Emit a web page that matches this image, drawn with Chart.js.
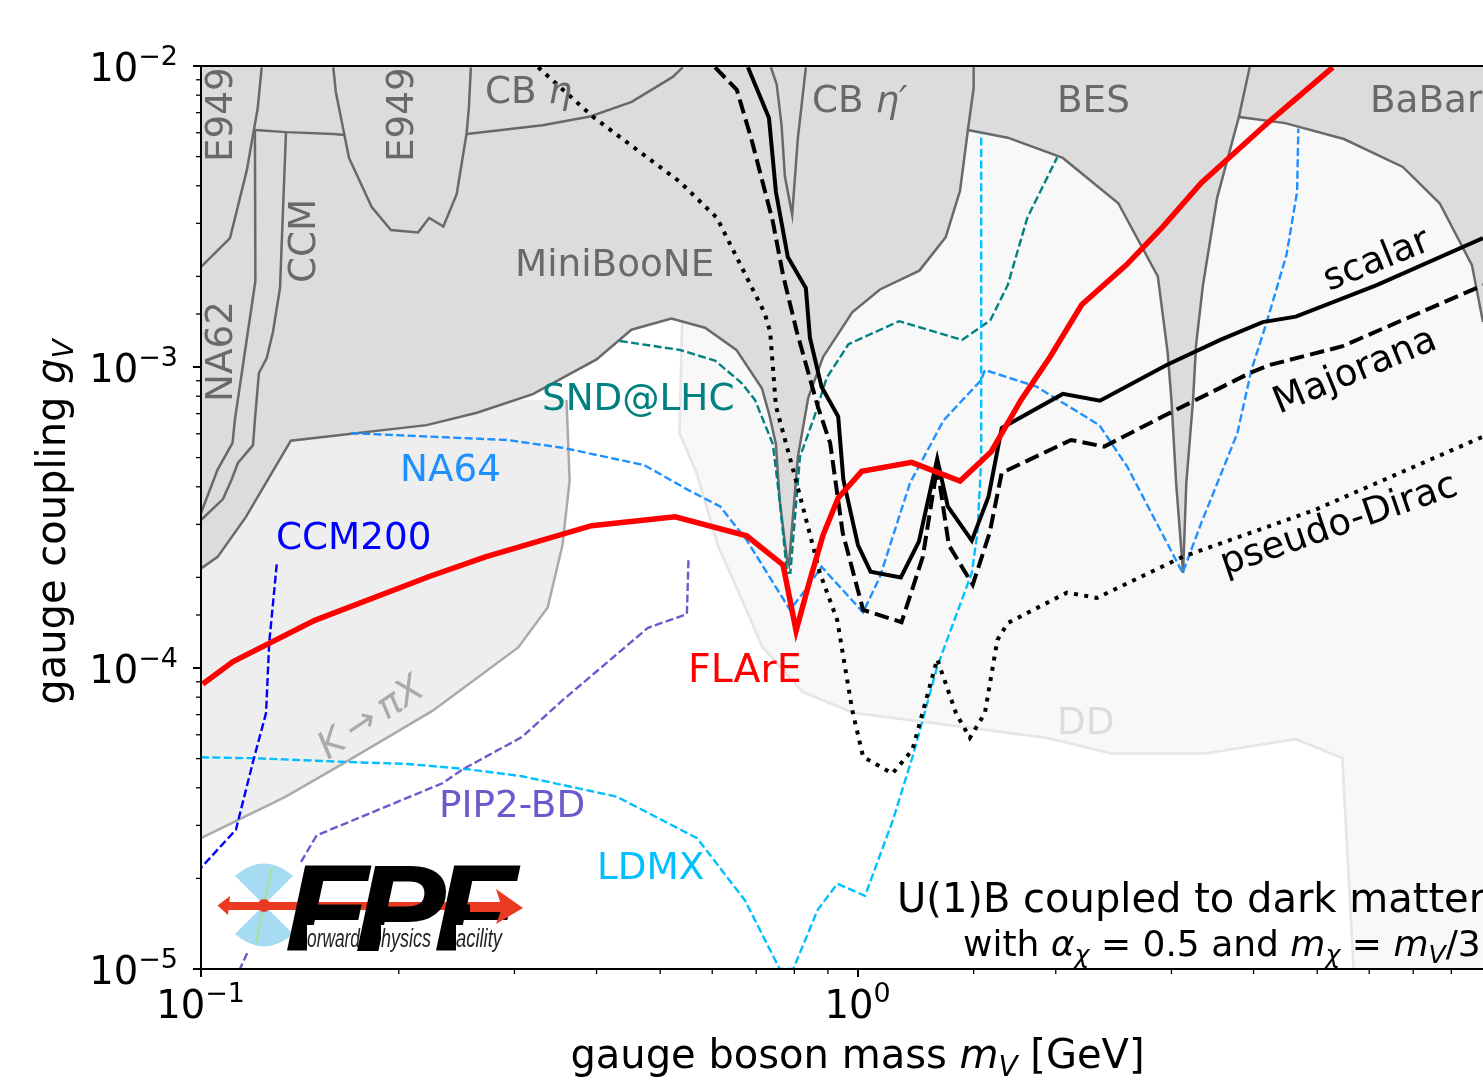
<!DOCTYPE html>
<html>
<head>
<meta charset="utf-8">
<title>FPF U(1)B dark matter reach</title>
<script src="https://cdn.jsdelivr.net/npm/chart.js@4/dist/chart.umd.min.js"></script>
<style>
  html, body { margin: 0; padding: 0; background: #fff; overflow: hidden; }
  canvas { display: block; }
</style>
</head>
<body>
<canvas id="reach" width="1483" height="1088"></canvas>
<script>
const X_MIN = 0.1, X_MAX = 8.94, Y_MIN = 1e-5, Y_MAX = 1e-2;

// sensitivity curves: mass in GeV, coupling g_V
const flareM = [0.1006, 0.1119, 0.149, 0.222, 0.271, 0.393, 0.527, 0.677, 0.769, 0.805, 0.845, 0.885, 0.933, 1.013, 1.207, 1.43, 1.595, 1.77, 1.96, 2.19, 2.56, 2.91, 3.33, 3.64, 4.23, 5.28];
const flareG = [8.85e-5, 1.05e-4, 1.44e-4, 2.01e-4, 2.34e-4, 2.97e-4, 3.18e-4, 2.75e-4, 2.2e-4, 1.33e-4, 1.96e-4, 2.77e-4, 3.67e-4, 4.5e-4, 4.82e-4, 4.18e-4, 5.23e-4, 7.76e-4, 1.08e-3, 1.61e-3, 2.18e-3, 2.92e-3, 4.09e-3, 4.87e-3, 6.55e-3, 9.9e-3];

const scalarM = [0.68, 0.732, 0.75, 0.782, 0.833, 0.845, 0.88, 0.933, 0.95, 1.0, 1.045, 1.162, 1.238, 1.32, 1.37, 1.49, 1.58, 1.655, 2.05, 2.335, 2.95, 3.56, 4.13, 4.64, 6.16, 8.94];
const scalarG = [9.9e-3, 6.72e-3, 3.82e-3, 2.32e-3, 1.83e-3, 1.25e-3, 8.6e-4, 6.84e-4, 4.22e-4, 2.56e-4, 2.09e-4, 2.0e-4, 2.63e-4, 4.95e-4, 3.44e-4, 2.65e-4, 3.71e-4, 6.27e-4, 8.14e-4, 7.73e-4, 1.015e-3, 1.23e-3, 1.41e-3, 1.47e-3, 1.87e-3, 2.68e-3];

const majoranaM = [0.606, 0.654, 0.689, 0.742, 0.769, 0.807, 0.869, 0.907, 0.948, 1.018, 1.165, 1.255, 1.32, 1.375, 1.495, 1.586, 1.655, 2.11, 2.37, 2.93, 3.95, 4.23, 5.45, 8.94];
const majoranaG = [9.9e-3, 8.33e-3, 5.67e-3, 3.04e-3, 2.02e-3, 1.31e-3, 7.37e-4, 5.59e-4, 2.81e-4, 1.56e-4, 1.42e-4, 2.34e-4, 4.66e-4, 2.56e-4, 1.89e-4, 2.81e-4, 4.45e-4, 5.72e-4, 5.44e-4, 6.9e-4, 9.55e-4, 1.015e-3, 1.17e-3, 1.87e-3];

const diracM = [0.326, 0.395, 0.535, 0.61, 0.721, 0.735, 0.75, 0.807, 0.875, 0.93, 0.98, 1.018, 1.128, 1.21, 1.32, 1.41, 1.48, 1.56, 1.63, 1.69, 2.08, 2.31, 3.12, 4.96, 8.94];
const diracG = [9.9e-3, 6.78e-3, 4.13e-3, 3.13e-3, 1.51e-3, 1.31e-3, 7.42e-4, 4.1e-4, 2.07e-4, 1.44e-4, 7.25e-5, 5.07e-5, 4.46e-5, 5.34e-5, 1.07e-4, 7.08e-5, 5.86e-5, 7.08e-5, 1.24e-4, 1.41e-4, 1.78e-4, 1.71e-4, 2.34e-4, 3.35e-4, 5.87e-4];

const sndM = [0.434, 0.535, 0.606, 0.665, 0.697, 0.742, 0.76, 0.78, 0.789, 0.816, 0.86, 0.896, 0.967, 1.155, 1.44, 1.59, 1.69, 1.81, 2.01];
const sndG = [1.22e-3, 1.14e-3, 1.05e-3, 8.85e-4, 7.77e-4, 5.55e-4, 3.6e-4, 2.07e-4, 2.07e-4, 5.03e-4, 6.93e-4, 9.2e-4, 1.19e-3, 1.42e-3, 1.23e-3, 1.43e-3, 1.87e-3, 3.13e-3, 4.97e-3];

const na64M = [0.169, 0.293, 0.357, 0.473, 0.552, 0.617, 0.677, 0.788, 0.84, 0.88, 1.018, 1.08, 1.2, 1.35, 1.54, 1.56, 1.87, 2.33, 2.57, 3.12, 3.33, 3.78, 3.97, 4.19, 4.49, 4.66, 4.68];
const na64G = [6.03e-4, 5.72e-4, 5.38e-4, 4.72e-4, 3.9e-4, 3.44e-4, 2.66e-4, 1.56e-4, 1.87e-4, 2.17e-4, 1.53e-4, 2.01e-4, 4.12e-4, 6.65e-4, 9.05e-4, 9.77e-4, 8.6e-4, 6.41e-4, 4.66e-4, 2.07e-4, 3.03e-4, 6.03e-4, 9.77e-4, 1.41e-3, 2.36e-3, 3.82e-3, 6.2e-3];

const ldmxM = [0.1, 0.1217, 0.168, 0.206, 0.2526, 0.308, 0.429, 0.569, 0.673, 0.76, 0.797, 0.868, 0.93, 1.025, 1.13, 1.215, 1.32, 1.49, 1.52, 1.54, 1.54];
const ldmxG = [5.05e-5, 5.01e-5, 4.87e-5, 4.8e-5, 4.62e-5, 4.37e-5, 3.74e-5, 2.72e-5, 1.69e-5, 1e-5, 1e-5, 1.57e-5, 1.92e-5, 1.75e-5, 3.12e-5, 5.2e-5, 1.01e-4, 2.07e-4, 2.82e-4, 4.9e-4, 5.98e-3];

const ccm200M = [0.1304, 0.127, 0.1256, 0.12, 0.113, 0.1];
const ccm200G = [2.21e-4, 1.21e-4, 7.08e-5, 4.88e-5, 2.9e-5, 2.17e-5];

const pip2M = [0.552, 0.549, 0.479, 0.3555, 0.308, 0.25, 0.233, 0.15, 0.142, 0.1176, 0.1146];
const pip2G = [2.28e-4, 1.51e-4, 1.36e-4, 7.83e-5, 5.9e-5, 4.6e-5, 4.14e-5, 2.78e-5, 2.27e-5, 1.13e-5, 1e-5];

// excluded regions: boundaries
const ddM = [0.54, 0.535, 0.567, 0.613, 0.655, 0.716, 0.825, 0.983, 1.94, 2.43, 3.37, 4.64, 5.46, 5.68];
const ddG = [1.41e-3, 6.03e-4, 4.5e-4, 2.53e-4, 1.83e-4, 1.17e-4, 8.32e-5, 7.1e-5, 5.86e-5, 5.2e-5, 5.2e-5, 5.8e-5, 5.02e-5, 1e-5];

const kaonM = [0.1, 0.1346, 0.168, 0.225, 0.304, 0.337, 0.355, 0.364, 0.36];
const kaonG = [2.72e-5, 3.74e-5, 4.94e-5, 7.2e-5, 1.17e-4, 1.59e-4, 2.56e-4, 4.2e-4, 7.77e-4];

const greyM = [0.1, 0.106, 0.117, 0.137, 0.2205, 0.263, 0.32, 0.4, 0.452, 0.52, 0.585, 0.653, 0.714, 0.733, 0.75, 0.76, 0.78, 0.785, 0.81, 0.84, 0.885, 0.98, 1.08, 1.24, 1.36, 1.43, 1.47, 1.69, 2.05, 2.49, 2.86, 2.96, 3.0, 3.05, 3.125, 3.16, 3.236, 3.27, 3.35, 3.52, 3.8, 4.47, 5.49, 6.75, 7.68, 8.6, 8.94];
const greyG = [2.14e-4, 2.34e-4, 3.17e-4, 5.69e-4, 6.41e-4, 7.05e-4, 8.13e-4, 1.06e-3, 1.33e-3, 1.45e-3, 1.35e-3, 1.14e-3, 8.5e-4, 6.93e-4, 5.55e-4, 3.6e-4, 2.28e-4, 2.2e-4, 5.03e-4, 7.9e-4, 1.08e-3, 1.52e-3, 1.81e-3, 2.09e-3, 2.7e-3, 3.85e-3, 6.13e-3, 5.78e-3, 4.95e-3, 3.5e-3, 2e-3, 1.12e-3, 7.77e-4, 4.1e-4, 2.07e-4, 4.1e-4, 7.77e-4, 1.18e-3, 1.87e-3, 3.64e-3, 6.77e-3, 6.46e-3, 5.72e-3, 4.62e-3, 3.5e-3, 2.18e-3, 1.41e-3];

// inner edges of the grey regions
const e949LeftM = [0.1237, 0.122, 0.1174, 0.1107, 0.1];
const e949LeftG = [9.9e-3, 7.25e-3, 4.5e-3, 2.68e-3, 2.15e-3];
const na62M = [0.1208, 0.121, 0.1126, 0.1117, 0.106, 0.1];
const na62G = [6.13e-3, 1.93e-3, 6.67e-4, 5.6e-4, 4.56e-4, 3.27e-4];
const topBarM = [0.1208, 0.135, 0.159, 0.1656];
const topBarG = [6.13e-3, 6.03e-3, 5.94e-3, 5.9e-3];
const ccmM = [0.1347, 0.1319, 0.1287, 0.1259, 0.1225, 0.1208, 0.12, 0.1138, 0.1113, 0.108, 0.1];
const ccmG = [6.03e-3, 1.83e-3, 1.31e-3, 1.07e-3, 9.55e-4, 6.67e-4, 5.5e-4, 4.8e-4, 4.22e-4, 3.64e-4, 3.1e-4];
const e949M = [0.159, 0.1604, 0.168, 0.1819, 0.1946, 0.214, 0.2225, 0.2338, 0.245, 0.2537, 0.2557, 0.2575];
const e949G = [9.9e-3, 8.2e-3, 4.95e-3, 3.4e-3, 2.85e-3, 2.8e-3, 3.13e-3, 2.93e-3, 3.75e-3, 5.98e-3, 7.25e-3, 9.9e-3];
const cbEtaM = [0.2539, 0.331, 0.391, 0.4525, 0.5225, 0.541];
const cbEtaG = [5.94e-3, 6.36e-3, 6.8e-3, 7.6e-3, 9.2e-3, 9.9e-3];
const cbEtaPrimeM = [0.737, 0.752, 0.765, 0.774, 0.794, 0.81, 0.833];
const cbEtaPrimeG = [9.9e-3, 8.7e-3, 6.36e-3, 4.3e-3, 3.2e-3, 5.75e-3, 9.9e-3];
const besLeftM = [1.47, 1.5, 1.5];
const besLeftG = [6.13e-3, 8.45e-3, 1e-2];
const besRightM = [3.8, 3.95];
const besRightG = [6.77e-3, 1e-2];

const pts = (m, g) => m.map((v, i) => ({ x: v, y: g[i] }));

function curve(label, m, g, color, width, dash) {
  return { label, data: pts(m, g), borderColor: color, borderWidth: width, borderDash: dash || [],
    pointRadius: 0, tension: 0, fill: false, showLine: true, borderJoinStyle: 'miter' };
}
function region(label, m, g, fillColor, edge, width, closeWith) {
  const d = curve(label, m, g, edge, width);
  d.polygonColor = fillColor;
  d.closeWith = closeWith;
  return d;
}

const thin = [8, 3.4];
const thick = [14.5, 6.2];
const dots = [4, 6.4];
const EDGE = '#696969';
const EDGE_W = 2.5;
const THIN_W = 2.4;

const datasets = [
  region('DD', ddM, ddG, '#f8f8f8', '#e6e6e6', 2.7, [[X_MAX, Y_MIN], [X_MAX, Y_MAX], [0.54, Y_MAX]]),
  region('K to pi X', kaonM, kaonG, '#eeeeee', '#aaaaaa', EDGE_W, [[0.1, 7.77e-4]]),
  region('MiniBooNE and others', greyM, greyG, '#dcdcdc', EDGE, EDGE_W, [[X_MAX, Y_MAX], [0.1, Y_MAX]]),
  curve('E949 left', e949LeftM, e949LeftG, EDGE, EDGE_W),
  curve('NA62', na62M, na62G, EDGE, EDGE_W),
  curve('top bar', topBarM, topBarG, EDGE, EDGE_W),
  curve('CCM', ccmM, ccmG, EDGE, EDGE_W),
  curve('E949', e949M, e949G, EDGE, EDGE_W),
  curve('CB eta', cbEtaM, cbEtaG, EDGE, EDGE_W),
  curve("CB eta'", cbEtaPrimeM, cbEtaPrimeG, EDGE, EDGE_W),
  curve('BES left', besLeftM, besLeftG, EDGE, EDGE_W),
  curve('BES right', besRightM, besRightG, EDGE, EDGE_W),
  curve('SND@LHC', sndM, sndG, '#008080', THIN_W, thin),
  curve('NA64', na64M, na64G, '#1e90ff', THIN_W, thin),
  curve('LDMX', ldmxM, ldmxG, '#00bfff', THIN_W, thin),
  curve('CCM200', ccm200M, ccm200G, '#0000ff', THIN_W, thin),
  curve('PIP2-BD', pip2M, pip2G, '#6a5acd', THIN_W, thin),
  curve('pseudo-Dirac', diracM, diracG, '#000000', 4, dots),
  curve('Majorana', majoranaM, majoranaG, '#000000', 4, thick),
  curve('scalar', scalarM, scalarG, '#000000', 4),
  curve('FLArE', flareM, flareG, '#ff0000', 5.5),
];
datasets.forEach((d, i) => { d.order = -i; });

const FONT = '"DejaVu Sans"';

// mixed text: each run is [text, style] where style may hold i (italic), sub, sup
function richText(ctx, runs, x, y, opt) {
  const size = opt.size || 37.3;
  ctx.save();
  ctx.translate(x, y);
  if (opt.rot) ctx.rotate(opt.rot * Math.PI / 180);
  ctx.fillStyle = opt.color || '#000';
  ctx.textBaseline = 'alphabetic';
  ctx.textAlign = 'left';
  const fontOf = s => (s && s.i ? 'italic ' : '') + (s && (s.sub || s.sup) ? size * 0.7 : size) + 'px ' + FONT;
  const shift = s => (s && s.sub ? size * 0.2 : s && s.sup ? -size * 0.41 : 0);
  let total = 0;
  runs.forEach(r => { ctx.font = fontOf(r[1]); total += ctx.measureText(r[0]).width; });
  let cx = opt.center ? -total / 2 : opt.right ? -total : 0;
  runs.forEach(r => {
    ctx.font = fontOf(r[1]);
    ctx.fillText(r[0], cx, shift(r[1]));
    cx += ctx.measureText(r[0]).width;
  });
  ctx.restore();
}

const I = { i: true };
const SUB = { i: true, sub: true };
const SUP = { sup: true };
const GREY = '#696969';
const plotLabels = [
  { runs: [['E949']], x: 232, y: 162, rot: -90, color: GREY },
  { runs: [['E949']], x: 413, y: 162, rot: -90, color: GREY },
  { runs: [['NA62']], x: 232, y: 402, rot: -90, color: GREY },
  { runs: [['CCM']], x: 315, y: 283, rot: -90, color: GREY },
  { runs: [['CB '], ['η', I]], x: 485, y: 103, color: GREY },
  { runs: [['CB '], ['η′', I]], x: 812, y: 112, color: GREY },
  { runs: [['BES']], x: 1057, y: 112, color: GREY },
  { runs: [['BaBar']], x: 1370, y: 112, color: GREY },
  { runs: [['MiniBooNE']], x: 515, y: 276, color: GREY },
  { runs: [['SND@LHC']], x: 542, y: 410, color: '#008080' },
  { runs: [['NA64']], x: 400, y: 481, color: '#1e90ff' },
  { runs: [['CCM200']], x: 276, y: 549, color: '#0000ff' },
  { runs: [['FLArE']], x: 688, y: 682, color: '#ff0000', size: 39.4 },
  { runs: [['PIP2-BD']], x: 439, y: 817, color: '#6a5acd' },
  { runs: [['LDMX']], x: 597, y: 879, color: '#00bfff' },
  { runs: [['DD']], x: 1057, y: 734, color: '#dcdcdc' },
  { runs: [['K', I], ['\u2009→\u2009'], ['πX', I]], x: 328, y: 760, rot: -34, color: '#aaaaaa' },
  { runs: [['scalar']], x: 1329, y: 291, rot: -22 },
  { runs: [['Majorana']], x: 1279, y: 414, rot: -22.4 },
  { runs: [['pseudo-Dirac']], x: 1225, y: 575, rot: -19 },
  { runs: [['U(1)B coupled to dark matter']], x: 897, y: 912, size: 40 },
  { runs: [['with '], ['α', I], ['χ', SUB], [' = 0.5 and '], ['m', I], ['χ', SUB], [' = '], ['m', I], ['V', SUB], ['/3']], x: 963, y: 956, size: 36 },
];
const axisTitles = [
  { runs: [['gauge boson mass '], ['m', I], ['V', SUB], [' [GeV]']], x: 857.5, y: 1068, center: true, size: 40 },
  { runs: [['gauge coupling '], ['g', I], ['V', SUB]], x: 65, y: 522, rot: -90, center: true, size: 40 },
];

function fitText(ctx, text, x, y, font, width, color) {
  ctx.save();
  ctx.font = font;
  ctx.fillStyle = color;
  const w = ctx.measureText(text).width;
  ctx.translate(x, y);
  ctx.scale(width / w, 1);
  ctx.fillText(text, 0, 0);
  ctx.restore();
}

function drawLogo(ctx) {
  ctx.save();
  ctx.fillStyle = '#ffffff';
  ctx.fillRect(216, 862, 308, 91);
  const cx = 264, cy = 905;
  [-1, 1].forEach(s => {
    ctx.fillStyle = '#a5dcf3';
    ctx.beginPath();
    ctx.moveTo(cx, cy);
    ctx.lineTo(cx + 29, cy + s * 29);
    ctx.quadraticCurveTo(cx, cy + s * 54, cx - 29, cy + s * 29);
    ctx.closePath();
    ctx.fill();
    ctx.strokeStyle = '#a8dfa8';
    ctx.lineWidth = 2.5;
    ctx.beginPath();
    ctx.moveTo(cx, cy);
    ctx.lineTo(cx + s * -8, cy + s * 38);
    ctx.stroke();
  });
  ctx.fillStyle = '#ea3a22';
  ctx.fillRect(226, 902, 275, 8);
  ctx.beginPath();
  ctx.moveTo(217.5, 905.5); ctx.lineTo(230, 896); ctx.lineTo(228, 915); ctx.closePath();
  ctx.fill();
  ctx.beginPath();
  ctx.arc(cx, cy + 0.5, 6.5, 0, 2 * Math.PI);
  ctx.fill();
  ctx.textBaseline = 'alphabetic';
  ctx.strokeStyle = '#000';
  ctx.lineWidth = 2;
  ctx.font = 'italic bold 121px "Liberation Sans"';
  ctx.fillStyle = '#000';
  [['F', 286], ['P', 356], ['F', 435]].forEach(l => {
    ctx.save();
    ctx.translate(l[1], 950);
    ctx.scale(1.1, 1);
    ctx.strokeText(l[0], 0, 0);
    ctx.fillText(l[0], 0, 0);
    ctx.restore();
  });
  ctx.fillStyle = '#ea3a22';
  ctx.beginPath();
  ctx.moveTo(523, 908); ctx.lineTo(496, 889); ctx.lineTo(502, 908); ctx.lineTo(496, 924); ctx.closePath();
  ctx.fill();
  ctx.fillRect(470, 904, 34, 8);
  const small = 'italic 26px "Liberation Sans Narrow", "Liberation Sans"';
  ctx.fillStyle = '#fff';
  ctx.fillRect(307, 925, 50, 26);
  ctx.fillRect(381, 925, 50, 26);
  ctx.fillRect(456, 925, 50, 26);
  fitText(ctx, 'orward', 307, 947, small, 53, '#222');
  fitText(ctx, 'hysics', 381, 947, small, 50, '#222');
  fitText(ctx, 'acility', 456, 947, small, 46, '#222');
  ctx.restore();
}

const polygonFill = {
  id: 'polygonFill',
  beforeDatasetDraw(chart, args) {
    const d = chart.data.datasets[args.index];
    if (!d.closeWith) return;
    const { ctx, scales: { x, y } } = chart;
    ctx.save();
    ctx.fillStyle = d.polygonColor;
    ctx.beginPath();
    d.data.forEach((p, i) => {
      const px = x.getPixelForValue(p.x), py = y.getPixelForValue(p.y);
      if (i === 0) ctx.moveTo(px, py); else ctx.lineTo(px, py);
    });
    d.closeWith.forEach(p => ctx.lineTo(x.getPixelForValue(p[0]), y.getPixelForValue(p[1])));
    ctx.closePath();
    ctx.fill();
    ctx.restore();
  }
};

const decadeOf = v => Math.round(Math.log10(v));
const isDecade = v => Math.abs(Math.log10(v) - decadeOf(v)) < 1e-6;
const decadeRuns = v => [['10'], [String(decadeOf(v)).replace('-', '−'), SUP]];

const frame = {
  id: 'frame',
  afterDatasetsDraw(chart) {
    const { ctx, chartArea: a, scales: { x, y } } = chart;
    plotLabels.forEach(t => richText(ctx, t.runs, t.x, t.y, t));
    drawLogo(ctx);
    ctx.save();
    ctx.strokeStyle = '#000';
    ctx.lineWidth = 2;
    ctx.beginPath();
    ctx.moveTo(a.left, a.bottom); ctx.lineTo(a.left, a.top); ctx.lineTo(a.right, a.top);
    ctx.moveTo(a.left - 1, a.bottom); ctx.lineTo(a.right, a.bottom);
    ctx.stroke();
    // tick marks, long on decades
    x.ticks.forEach(t => {
      if (t.value >= X_MAX) return;
      const big = isDecade(t.value);
      const px = x.getPixelForValue(t.value);
      ctx.lineWidth = big ? 2 : 1.3;
      ctx.beginPath(); ctx.moveTo(px, a.bottom); ctx.lineTo(px, a.bottom + (big ? 8 : 5)); ctx.stroke();
      if (big) richText(ctx, decadeRuns(t.value), px - 0.5, 1018, { center: true, size: 38.5 });
    });
    y.ticks.forEach(t => {
      const big = isDecade(t.value);
      const py = y.getPixelForValue(t.value);
      ctx.lineWidth = big ? 2 : 1.3;
      ctx.beginPath(); ctx.moveTo(a.left, py); ctx.lineTo(a.left - (big ? 8 : 5), py); ctx.stroke();
      if (big) richText(ctx, decadeRuns(t.value), 178, py + 14.5, { right: true, size: 38.5 });
    });
    ctx.restore();
    axisTitles.forEach(t => richText(ctx, t.runs, t.x, t.y, t));
  }
};

new Chart(document.getElementById('reach'), {
  type: 'scatter',
  data: { datasets },
  plugins: [polygonFill, frame],
  options: {
    responsive: false,
    animation: false,
    layout: { autoPadding: false, padding: { top: 66, right: 0, left: 0, bottom: 0 } },
    plugins: { legend: { display: false }, tooltip: { enabled: false } },
    scales: {
      x: {
        type: 'logarithmic', min: X_MIN, max: X_MAX,
        afterFit: s => { s.height = 1088 - 969; },
        grid: { display: false, drawTicks: false },
        border: { display: false },
        ticks: { display: false, autoSkip: false, maxRotation: 0, minRotation: 0 }
      },
      y: {
        type: 'logarithmic', min: Y_MIN, max: Y_MAX,
        afterFit: s => { s.width = 201; },
        grid: { display: false, drawTicks: false },
        border: { display: false },
        ticks: { display: false, autoSkip: false }
      }
    }
  }
});
</script>
</body>
</html>
